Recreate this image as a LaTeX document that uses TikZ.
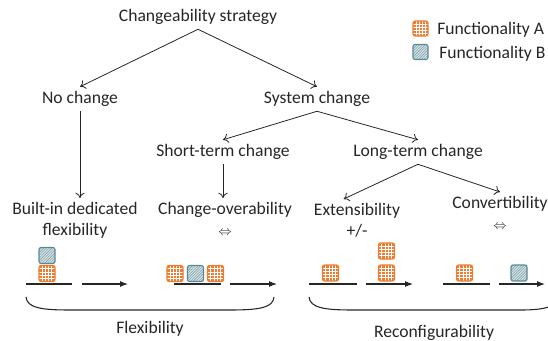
\documentclass[tikz,border=0pt]{standalone}
\usepackage{fontspec}
\setmainfont{Carlito}
\usetikzlibrary{arrows.meta,calc}
\definecolor{funcorange}{HTML}{ED7D31}
\definecolor{functeal}{HTML}{5B8993}
\definecolor{funcgrey}{HTML}{DCE5E8}
\definecolor{inkgrey}{HTML}{262626}
\tikzset{
  lbl/.style={font=\fontsize{13.2}{15.8}\selectfont, text=inkgrey, inner sep=3pt, text height=9pt, text depth=3pt},
  lbltwo/.style={font=\fontsize{13.2}{15.8}\selectfont, text=inkgrey, inner sep=3pt, align=center},
  tree/.style={-{To[length=4pt,width=7pt]}, line width=0.6pt, inkgrey},
  flow/.style={-{Latex[length=6pt,width=4.5pt]}, line width=0.8pt, inkgrey},
  floorline/.style={line width=0.8pt, inkgrey},
  funcA/.style={draw=funcorange, fill=funcorange, line width=0.8pt, rounded corners=1.5pt,
    minimum size=12pt, inner sep=0pt,
    path picture={
      \foreach \f in {0.2,0.4,0.6,0.8} {
        \draw[white, line width=0.5pt] ($(path picture bounding box.south west)!\f!(path picture bounding box.south east)$) -- ++(0pt,15pt);
        \draw[white, line width=0.5pt] ($(path picture bounding box.south west)!\f!(path picture bounding box.north west)$) -- ++(15pt,0pt);
      }}},
  funcB/.style={draw=functeal, fill=funcgrey, line width=0.8pt, rounded corners=1.5pt,
    minimum size=12pt, inner sep=0pt,
    path picture={
      \foreach \s in {-14,-12,...,14} {
        \draw[functeal!80, line width=0.45pt] ([xshift=\s pt]path picture bounding box.south west) -- ++(16pt,16pt);
      }}}
}
\newcommand{\swap}{{\fontsize{10}{15.8}\selectfont$\Leftrightarrow$}}
\begin{document}
\begin{tikzpicture}[x=0.75pt, y=-0.75pt]
    \clip (0,0) rectangle (548,340);
    \begin{scope}
      \node[lbl] (cs) at (198,17) {Changeability strategy};
      \node[lbl] (nc) at (80,99) {No change};
      \node[lbl] (sc) at (317,99) {System change};
      \node[lbl] (st) at (223,152) {Short-term change};
      \node[lbl] (lt) at (418,152) {Long-term change};
      \node[lbltwo, anchor=north] (bi) at (75,198) {Built-in dedicated\\flexibility};
      \node[lbltwo, anchor=north] (co) at (225,198) {Change-overability\\\swap};
      \node[lbltwo, anchor=north] (ext) at (357,199) {Extensibility\\+/-};
      \node[lbltwo, anchor=north] (cv) at (500,192) {Convertibility\\\swap};
      \draw[tree] (cs.south) -- (nc.north);
      \draw[tree] (cs.south) -- (sc.north);
      \draw[tree] (sc.south) -- (st.north);
      \draw[tree] (sc.south) -- (lt.north);
      \draw[tree] (nc.south) -- (nc.south |- bi.north);
      \draw[tree] (st.south) -- (st.south |- co.north);
      \draw[tree] (lt.south) -- ([xshift=-10pt]ext.north);
      \draw[tree] (lt.south) -- (cv.north);
    \end{scope}
    \begin{scope}
      \node[funcA, minimum size=11.25pt] (keyA) at (420.5,28.5) {};
      \node[funcB, minimum size=11.25pt] (keyB) at (420.5,52) {};
      \node[lbl, anchor=west] (keyAtext) at (433,30) {Functionality A};
      \node[lbl, anchor=west] (keyBtext) at (435,54) {Functionality B};
    \end{scope}
    \begin{scope}
      \node[funcA] (biA) at (47,273.5) {};
      \node[funcB] (biB) at (47,255.5) {};
      \draw[floorline] (26,284) -- (72,284);
      \draw[flow] (82,284) -- (128,284);
      \node[funcA] (coA1) at (175,273.5) {};
      \node[funcB] (coB) at (195.5,273.5) {};
      \node[funcA] (coA2) at (215.5,273.5) {};
      \draw[floorline] (174,284) -- (221,284);
      \draw[flow] (230,284) -- (277,284);
      \node[funcA] (extA1) at (330.5,273) {};
      \node[funcA] (extA2) at (386.5,273) {};
      \node[funcA] (extA3) at (386.5,251) {};
      \draw[floorline] (309,284) -- (357,284);
      \draw[flow] (366,284) -- (413,284);
      \node[funcA] (cvA) at (464.5,273) {};
      \node[funcB] (cvB) at (519,273) {};
      \draw[floorline] (443,284) -- (490,284);
      \draw[flow] (499,284) -- (545,284);
      \draw[floorline] (26,297) .. controls (27,308) and (42,310) .. (70,310) -- (230,310) .. controls (262,310) and (273,307) .. (274,297);
      \draw[floorline] (309,297) .. controls (310,308) and (325,310) .. (353,310) -- (520,310) .. controls (548,310) and (556,306) .. (557,297);
      \node[lbl] (flex) at (150,329) {Flexibility};
      \node[lbl] (reconf) at (434,333) {Reconfigurability};
    \end{scope}
  \end{tikzpicture}
\end{document}
